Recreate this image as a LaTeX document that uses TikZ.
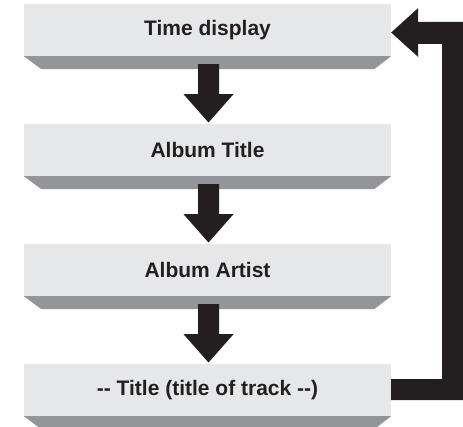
\documentclass[tikz,border=0pt]{standalone}
\usepackage{fontspec}
\setmainfont{Liberation Sans}
\usetikzlibrary{calc}
\definecolor{boxfill}{RGB}{230,231,232}
\definecolor{shadowfill}{RGB}{147,149,152}
\definecolor{ink}{RGB}{35,31,32}
\tikzset{
  stepbox/.style={fill=boxfill, draw=none, minimum width=367pt, minimum height=52pt,
    inner sep=0pt, font=\fontsize{21}{25}\selectfont\bfseries, text=ink},
  boxshadow/.style={fill=shadowfill},
  bigarrow/.style={fill=ink},
}
\begin{document}
\begin{tikzpicture}[x=1pt,y=-1pt]
\useasboundingbox (0,0) rectangle (463,427);
\coordinate (re) at (463,0);
% boxes
\node[stepbox] (b1) at (207.5,30) {Time display};
\node[stepbox] (b2) at (207.5,150) {Album Title};
\node[stepbox] (b3) at (207.5,270) {Album Artist};
\node[stepbox] (b4) at (207.5,390) {-\kern0pt- Title (title of track -\kern0pt-)};
% shadows
\foreach \b in {b1,b2,b3,b4}{
  \fill[boxshadow] (\b.south west) -- (\b.south east) -- ($(\b.south east)+(-17,13)$)
     -- ($(\b.south west)+(17.5,13)$) -- cycle;
}
% down arrows
\foreach \a/\b in {b1/b2,b2/b3,b3/b4}{
  \fill[bigarrow] ($(\a.south)+(-9.5,8)$) -- ($(\a.south)+(11.5,8)$) -- ($(\a.south)+(11.5,38)$)
     -- ($(\a.south)+(26,38)$) -- ($(\b.north)+(1,-1.3)$) -- ($(\a.south)+(-24,38)$)
     -- ($(\a.south)+(-9.5,38)$) -- cycle;
}
% loop arrow back to top
\fill[bigarrow] ($(b4.east)+(0,-11)$) -- ($(b4.east)+(51,-11)$) -- ($(b1.east)+(51,14)$)
   -- ($(b1.east)+(27,14)$) -- ($(b1.east)+(27,27)$) -- ($(b1.east)+(0,2.5)$)
   -- ($(b1.east)+(27,-22)$) -- ($(b1.east)+(27,-8)$) -- ($(b1.east -| re)+(0,-8)$)
   -- ($(b4.east -| re)+(0,10)$) -- ($(b4.east)+(0,10)$) -- cycle;
\end{tikzpicture}
\end{document}
